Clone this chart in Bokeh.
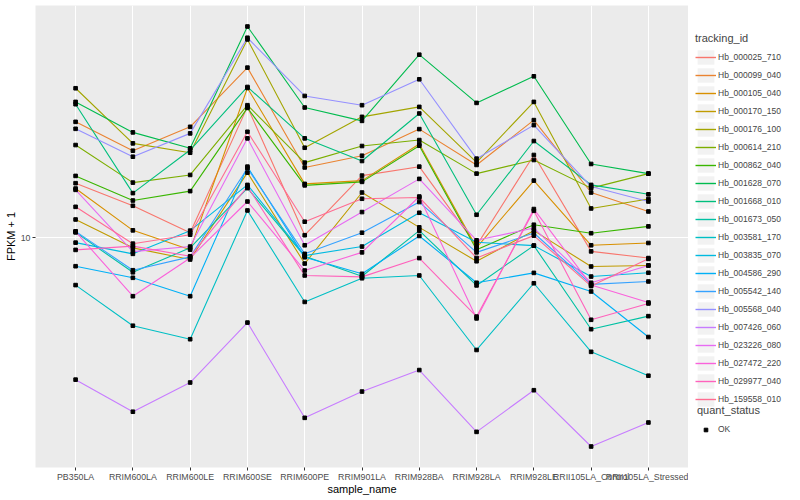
import math
from bokeh.plotting import figure
from bokeh.layouts import row
from bokeh.models import (FactorRange, Range1d, FixedTicker, NumeralTickFormatter,
                          Legend, LegendItem)
from bokeh.embed import file_html
from bokeh.resources import INLINE

# ---------------- data ----------------
samples = ["PB350LA", "RRIM600LA", "RRIM600LE", "RRIM600SE", "RRIM600PE", "RRIM901LA",
           "RRIM928BA", "RRIM928LA", "RRIM928LE", "RRII105LA_Control", "RRII105LA_Stressed"]

tracking_ids = ["Hb_000025_710", "Hb_000099_040", "Hb_000105_040", "Hb_000170_150",
                "Hb_000176_100", "Hb_000614_210", "Hb_000862_040", "Hb_001628_070",
                "Hb_001668_010", "Hb_001673_050", "Hb_003581_170", "Hb_003835_070",
                "Hb_004586_290", "Hb_005542_140", "Hb_005568_040", "Hb_007426_060",
                "Hb_023226_080", "Hb_027472_220", "Hb_029977_040", "Hb_159558_010"]

# FPKM + 1 per sample (order of `samples`)
hb_000025_710 = [16.55, 13.43, 10.47, 33.51, 10.23, 17.75, 19.28, 9.29, 21.48, 8.81, 8.28]
hb_000099_040 = [29.18, 22.35, 27.87, 48.17, 19.14, 21.34, 27.29, 19.59, 29.65, 15.18, 12.74]
hb_000105_040 = [15.75, 10.70, 8.95, 39.92, 16.44, 16.95, 23.77, 9.12, 16.95, 9.32, 9.52]
hb_000170_150 = [11.83, 9.10, 8.17, 18.24, 7.87, 15.18, 11.00, 8.04, 10.67, 7.66, 7.73]
hb_000176_100 = [39.81, 23.92, 21.93, 62.52, 22.97, 30.56, 33.51, 20.08, 35.09, 13.10, 14.29]
hb_000614_210 = [23.55, 16.64, 17.86, 34.04, 20.01, 23.34, 24.66, 18.08, 20.51, 15.81, 18.08]
hb_000862_040 = [17.70, 14.10, 15.38, 33.20, 16.22, 16.75, 23.40, 8.95, 11.27, 10.42, 11.10]
hb_001628_070 = [35.09, 26.47, 22.85, 70.47, 33.32, 29.45, 54.30, 34.77, 44.46, 19.77, 18.08]
hb_001668_010 = [34.35, 15.10, 22.49, 40.29, 25.05, 20.32, 31.53, 12.36, 24.44, 16.29, 14.93]
hb_001673_050 = [10.50, 7.26, 9.10, 15.81, 8.42, 7.00, 10.67, 6.43, 9.29, 4.29, 4.84]
hb_003581_170 = [6.45, 4.43, 3.91, 12.86, 5.52, 6.87, 7.05, 3.54, 6.56, 3.48, 2.79]
hb_003835_070 = [9.55, 8.61, 10.67, 16.29, 8.47, 9.21, 12.59, 9.58, 9.29, 6.98, 7.23]
hb_004586_290 = [7.68, 6.90, 5.82, 19.28, 8.34, 7.16, 10.16, 6.59, 7.22, 6.08, 3.99]
hb_005542_140 = [10.60, 7.40, 8.37, 19.00, 8.61, 10.47, 13.90, 8.73, 10.44, 6.49, 6.67]
hb_005568_040 = [27.36, 21.14, 26.23, 63.51, 37.08, 34.04, 43.25, 20.76, 28.31, 16.04, 13.97]
hb_007426_060 = [2.69, 2.00, 2.62, 4.56, 1.89, 2.41, 2.94, 1.66, 2.44, 1.45, 1.81]
hb_023226_080 = [15.56, 8.79, 9.21, 25.05, 9.32, 12.67, 17.22, 9.76, 10.93, 6.59, 7.73]
hb_027472_220 = [10.57, 5.82, 8.29, 13.97, 7.38, 8.73, 14.63, 4.74, 13.03, 6.46, 5.49]
hb_029977_040 = [8.93, 9.25, 8.42, 16.04, 7.05, 6.96, 8.28, 4.82, 12.82, 4.68, 5.44]
hb_159558_010 = [13.30, 9.46, 10.28, 26.62, 11.59, 14.33, 14.50, 8.29, 10.19, 6.39, 8.22]

series = [hb_000025_710, hb_000099_040, hb_000105_040, hb_000170_150, hb_000176_100,
          hb_000614_210, hb_000862_040, hb_001628_070, hb_001668_010, hb_001673_050,
          hb_003581_170, hb_003835_070, hb_004586_290, hb_005542_140, hb_005568_040,
          hb_007426_060, hb_023226_080, hb_027472_220, hb_029977_040, hb_159558_010]

y_ticks = [10]
status_label = "OK"

# ---------------- styles ----------------
colors = ["#F8766D", "#EA8331", "#D89000", "#C09B00", "#A3A500", "#7CAE00", "#39B600",
          "#00BB4E", "#00BF7D", "#00C1A3", "#00BFC4", "#00BAE0", "#00B0F6", "#35A2FF",
          "#9590FF", "#C77CFF", "#E76BF3", "#FA62DB", "#FF62BC", "#FF6C91"]
FONT = "Liberation Sans"
LW = 1.1
PT = 3.6
KEY_BG = "#F2F2F2"

all_vals = [v for s in series for v in s]
lo, hi = math.log10(min(all_vals)), math.log10(max(all_vals))
pad = 0.05 * (hi - lo)

FW, FH, TOP = 653, 462, 5
p = figure(x_range=FactorRange(factors=samples, range_padding=0.2, range_padding_units="absolute"),
           y_range=Range1d(10 ** (lo - pad), 10 ** (hi + pad)), y_axis_type="log",
           frame_width=FW, frame_height=FH, output_backend="svg", toolbar_location=None,
           min_border_left=35, min_border_right=0, min_border_top=TOP, min_border_bottom=0,
           background_fill_color="#EBEBEB", border_fill_color="white",
           x_axis_label="sample_name", y_axis_label="FPKM + 1")
p.outline_line_color = None

for vals, col in zip(series, colors):
    p.line(samples, vals, line_color=col, line_width=LW)

px = [s for _ in series for s in samples]
p.scatter(px, all_vals, marker="square", size=PT, color="black")

# axes
for ax in (p.xaxis[0], p.yaxis[0]):
    ax.axis_line_color = None
    ax.major_tick_in = 0
    ax.major_tick_out = 3
    ax.major_tick_line_color = "#333333"
    ax.minor_tick_line_color = None
    ax.major_label_text_font = FONT
    ax.major_label_text_font_size = "8.8px"
    ax.major_label_text_color = "#4D4D4D"
    ax.major_label_standoff = 2
    ax.axis_label_text_font = FONT
    ax.axis_label_text_font_size = "11px"
    ax.axis_label_text_font_style = "normal"
    ax.axis_label_text_color = "black"
    ax.axis_label_standoff = 1
p.xaxis.major_label_standoff = 1
p.xaxis.axis_label_standoff = -2
p.yaxis.ticker = FixedTicker(ticks=y_ticks)
p.yaxis.formatter = NumeralTickFormatter(format="0")
p.ygrid.ticker = FixedTicker(ticks=y_ticks)
p.grid.grid_line_color = "white"
p.grid.grid_line_width = 1.1

# ---------------- legend panel (frame aligned with the plot frame) ----------------
q = figure(frame_width=100, frame_height=FH, x_range=Range1d(0, 1), y_range=Range1d(0, 1),
           output_backend="svg", toolbar_location=None,
           x_axis_location=None, y_axis_location=None,
           min_border_left=0, min_border_right=0, min_border_top=TOP, min_border_bottom=0)
q.outline_line_color = None
q.xgrid.visible = False
q.ygrid.visible = False

# legend-only renderers, kept outside the visible range
key_bg = q.quad(left=[0], right=[1], bottom=[-6], top=[-5], fill_color=KEY_BG, line_color=None)
items = []
for tid, col in zip(tracking_ids, colors):
    r = q.line([0, 1], [-5, -5], line_color=col, line_width=1.4)
    items.append(LegendItem(label=tid, renderers=[key_bg, r]))
pr = q.scatter([0.5], [-5], marker="square", size=PT, color="black")


def style_legend(lg):
    lg.padding = 0
    lg.margin = 0
    lg.spacing = 0
    lg.glyph_height = 18
    lg.glyph_width = 17
    lg.label_height = 18
    lg.label_standoff = 4
    lg.title_standoff = 4
    lg.label_text_font = FONT
    lg.label_text_font_size = "8.5px"
    lg.title_text_font = FONT
    lg.title_text_font_size = "11px"
    lg.title_text_font_style = "normal"
    lg.border_line_color = None
    lg.background_fill_alpha = 0


frame_bottom = TOP + FH
leg1 = Legend(items=items, title="tracking_id", location=(7, frame_bottom - 408))
style_legend(leg1)
leg1.glyph_width = 21
leg1.label_standoff = 2
q.add_layout(leg1, "center")

leg2 = Legend(items=[LegendItem(label=status_label, renderers=[pr])], title="quant_status",
              location=(9, frame_bottom - 438))
style_legend(leg2)
leg2.glyph_height = 9
q.add_layout(leg2, "center")

layout = row(p, q)
open("out.html", "w").write(file_html(layout, INLINE))
